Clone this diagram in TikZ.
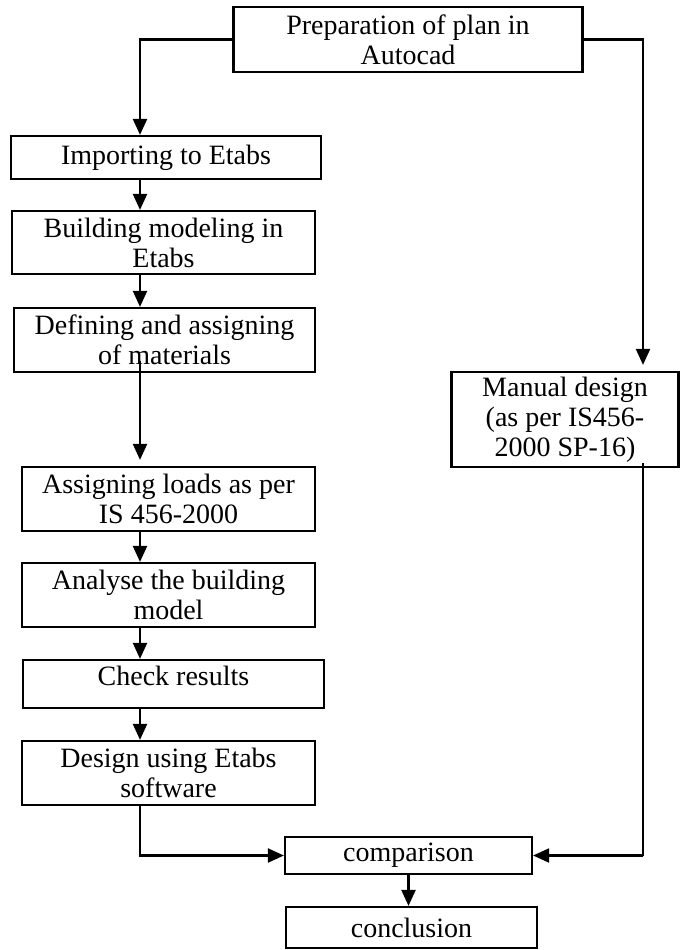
\documentclass[tikz,border=0pt]{standalone}
\usepackage{fontspec}
\setmainfont{Liberation Serif}
\usepackage{tikz}
\usetikzlibrary{arrows.meta}

\tikzset{
  stage/.style={draw, line width=2.2pt, inner sep=0pt, align=center,
    font=\fontsize{28pt}{30pt}\selectfont},
  flow/.style={line width=2.2pt, -{Triangle[length=16pt,width=14pt]}},
}

\begin{document}
\begin{tikzpicture}[x=1pt, y=-1pt]
    \useasboundingbox (0, 0) rectangle (682, 950);
    \coordinate (ltrunk) at (140, 0);
    \coordinate (rtrunk) at (643, 0);

    % left column, etabs route
    \node[stage, minimum width=349pt, minimum height=65pt] (prep) at (408, 39.5) {Preparation of plan in\\Autocad};
    \node[stage, minimum width=310pt, minimum height=43pt] (import) at (166, 157.5) {Importing to Etabs};
    \node[stage, minimum width=303pt, minimum height=63pt] (model) at (163.5, 242.5) {Building modeling in\\Etabs};
    \node[stage, minimum width=301pt, minimum height=64pt] (define) at (164.5, 340) {Defining and assigning\\of materials};
    \node[stage, minimum width=293pt, minimum height=64pt] (loads) at (168.5, 499) {Assigning loads as per\\IS 456-2000};
    \node[stage, minimum width=293pt, minimum height=64pt] (analyse) at (168.5, 595) {Analyse the building\\model};
    \node[stage, minimum width=301pt, minimum height=48pt, text depth=17pt] (check) at (173.5, 684) {Check results};
    \node[stage, minimum width=293pt, minimum height=64pt] (design) at (168.5, 773) {Design using Etabs\\software};

    % right column and end
    \node[stage, minimum width=227pt, minimum height=95pt] (manual) at (565, 419.5) {Manual design\\(as per IS456-\\2000 SP-16)};
    \node[stage, minimum width=247pt, minimum height=37pt] (comp) at (408.5, 855.5) {comparison};
    \node[stage, minimum width=251pt, minimum height=41pt] (concl) at (411.5, 927.5) {conclusion};

    \draw[flow] (prep.west) -| (ltrunk |- import.north);
    \draw[flow] (import.south -| ltrunk) -- (model.north -| ltrunk);
    \draw[flow] (model.south -| ltrunk) -- (define.north -| ltrunk);
    \draw[flow, shorten <=-12pt, shorten >=6pt] (define.south -| ltrunk) -- (loads.north -| ltrunk);
    \draw[flow] (loads.south -| ltrunk) -- (analyse.north -| ltrunk);
    \draw[flow] (analyse.south -| ltrunk) -- (check.north -| ltrunk);
    \draw[flow] (check.south -| ltrunk) -- (design.north -| ltrunk);
    \draw[flow] (design.south -| ltrunk) |- (comp.west);

    \draw[flow, shorten >=6pt] (prep.east) -| (rtrunk |- manual.north);
    \draw[line width=1.2pt, shorten <=-5pt] (manual.south -| rtrunk) -- (rtrunk |- comp.east);
    \draw[flow] (rtrunk |- comp.east) -- (comp.east);
    \draw[flow] (comp.south) -- (comp.south |- concl.north);
\end{tikzpicture}
\end{document}
